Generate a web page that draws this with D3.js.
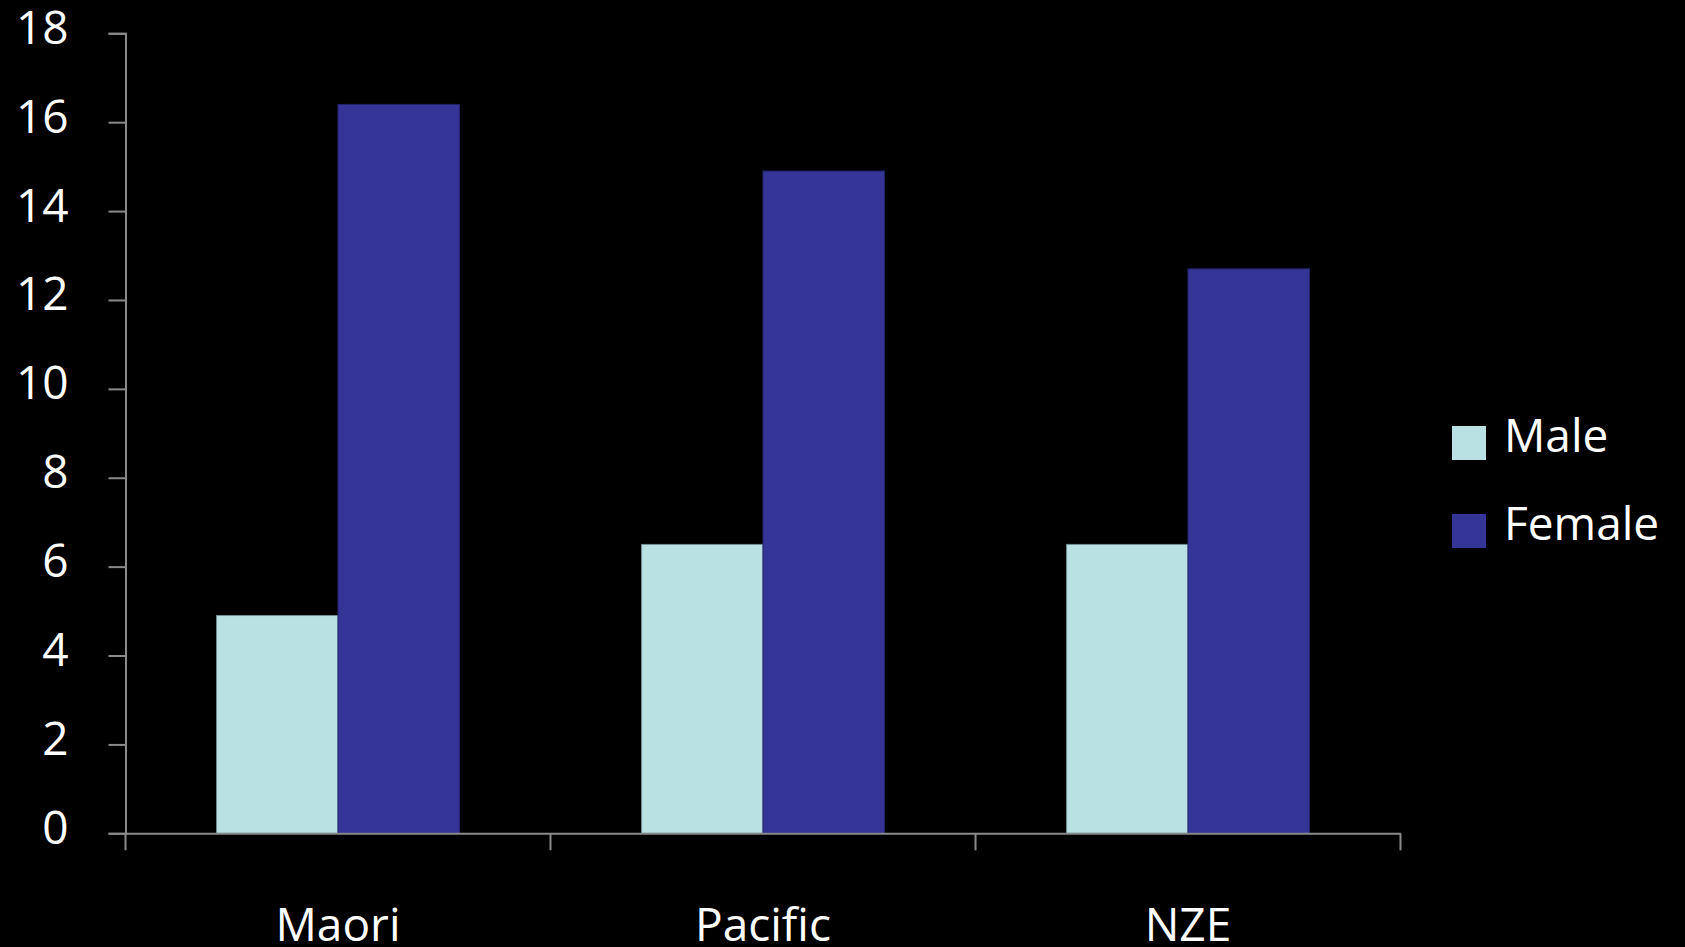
<!DOCTYPE html>
<html>
<head>
<meta charset="utf-8">
<script src="https://cdn.jsdelivr.net/npm/d3@7"></script>
<style>
html,body{margin:0;padding:0;background:#000;overflow:hidden;}
svg{display:block;}
text{font-family:"Open Sans",sans-serif;fill:#fff;}
</style>
</head>
<body>
<svg id="chart" width="1685" height="947"></svg>
<script>
const categories = ["Maori", "Pacific", "NZE"];
const seriesNames = ["Male", "Female"];
const maleValues = [4.9, 6.5, 6.5];
const femaleValues = [16.4, 14.9, 12.7];
const yTicks = [0, 2, 4, 6, 8, 10, 12, 14, 16, 18];
const colors = ["#b9e0e3", "#353598"];
const strokes = ["#6f8f96", "#24246e"];

const svg = d3.select("#chart");
const plotLeft = 125.5, plotRight = 1400.5, plotTop = 33.3, plotBottom = 833.3;

const x = d3.scaleBand().domain(categories).range([plotLeft, plotRight]).paddingInner(0).paddingOuter(0);
const xs = d3.scaleBand().domain(seriesNames).range([0, x.bandwidth()]).paddingInner(0).paddingOuter(0.75);
const y = d3.scaleLinear().domain([0, 18]).range([plotBottom, plotTop]);

const seriesValues = [maleValues, femaleValues];

// bars
seriesNames.forEach((s, si) => {
  svg.append("g").selectAll("rect")
    .data(categories)
    .join("rect")
    .attr("x", c => x(c) + xs(s))
    .attr("y", (c, i) => y(seriesValues[si][i]))
    .attr("width", xs.bandwidth())
    .attr("height", (c, i) => plotBottom - y(seriesValues[si][i]))
    .attr("fill", colors[si])
    .attr("stroke", strokes[si])
    .attr("stroke-width", 1);
});

// y axis
const yAxis = d3.axisLeft(y).tickValues(yTicks).tickSize(17).tickPadding(40).tickFormat(d3.format("d"));
const gy = svg.append("g").attr("transform", `translate(${plotLeft},0)`).call(yAxis);
gy.select(".domain").attr("stroke", "#8a8a8a").attr("stroke-width", 2);
gy.selectAll(".tick line").attr("stroke", "#8a8a8a").attr("stroke-width", 2);
gy.selectAll(".tick text")
  .attr("fill", "#fff")
  .style("font-family", '"Open Sans", sans-serif')
  .style("font-size", "46px")
  .attr("dy", "10")
  .attr("y", 0);

// x axis
const xAxis = d3.axisBottom(x).tickSize(0).tickFormat("");
const gx = svg.append("g").attr("transform", `translate(0,${plotBottom})`).call(xAxis);
gx.select(".domain").attr("stroke", "#8a8a8a").attr("stroke-width", 2);
const boundaries = categories.map(c => x(c)).concat([x(categories[categories.length - 1]) + x.bandwidth()]);
gx.selectAll("line.bound").data(boundaries).join("line")
  .attr("class", "bound")
  .attr("x1", d => d).attr("x2", d => d)
  .attr("y1", 0).attr("y2", 17)
  .attr("stroke", "#8a8a8a").attr("stroke-width", 2);
svg.append("g").selectAll("text").data(categories).join("text")
  .attr("x", c => x(c) + x.bandwidth() / 2)
  .attr("y", 941)
  .attr("text-anchor", "middle")
  .style("font-size", "46px")
  .text(c => c);

// legend
const legend = svg.append("g");
const legendY = [426, 514];
seriesNames.forEach((s, i) => {
  legend.append("rect")
    .attr("x", 1452).attr("y", legendY[i])
    .attr("width", 34).attr("height", 34)
    .attr("fill", colors[i]);
  legend.append("text")
    .attr("x", 1504).attr("y", legendY[i] + 26)
    .style("font-size", "46px")
    .text(s);
});
</script>
</body>
</html>
